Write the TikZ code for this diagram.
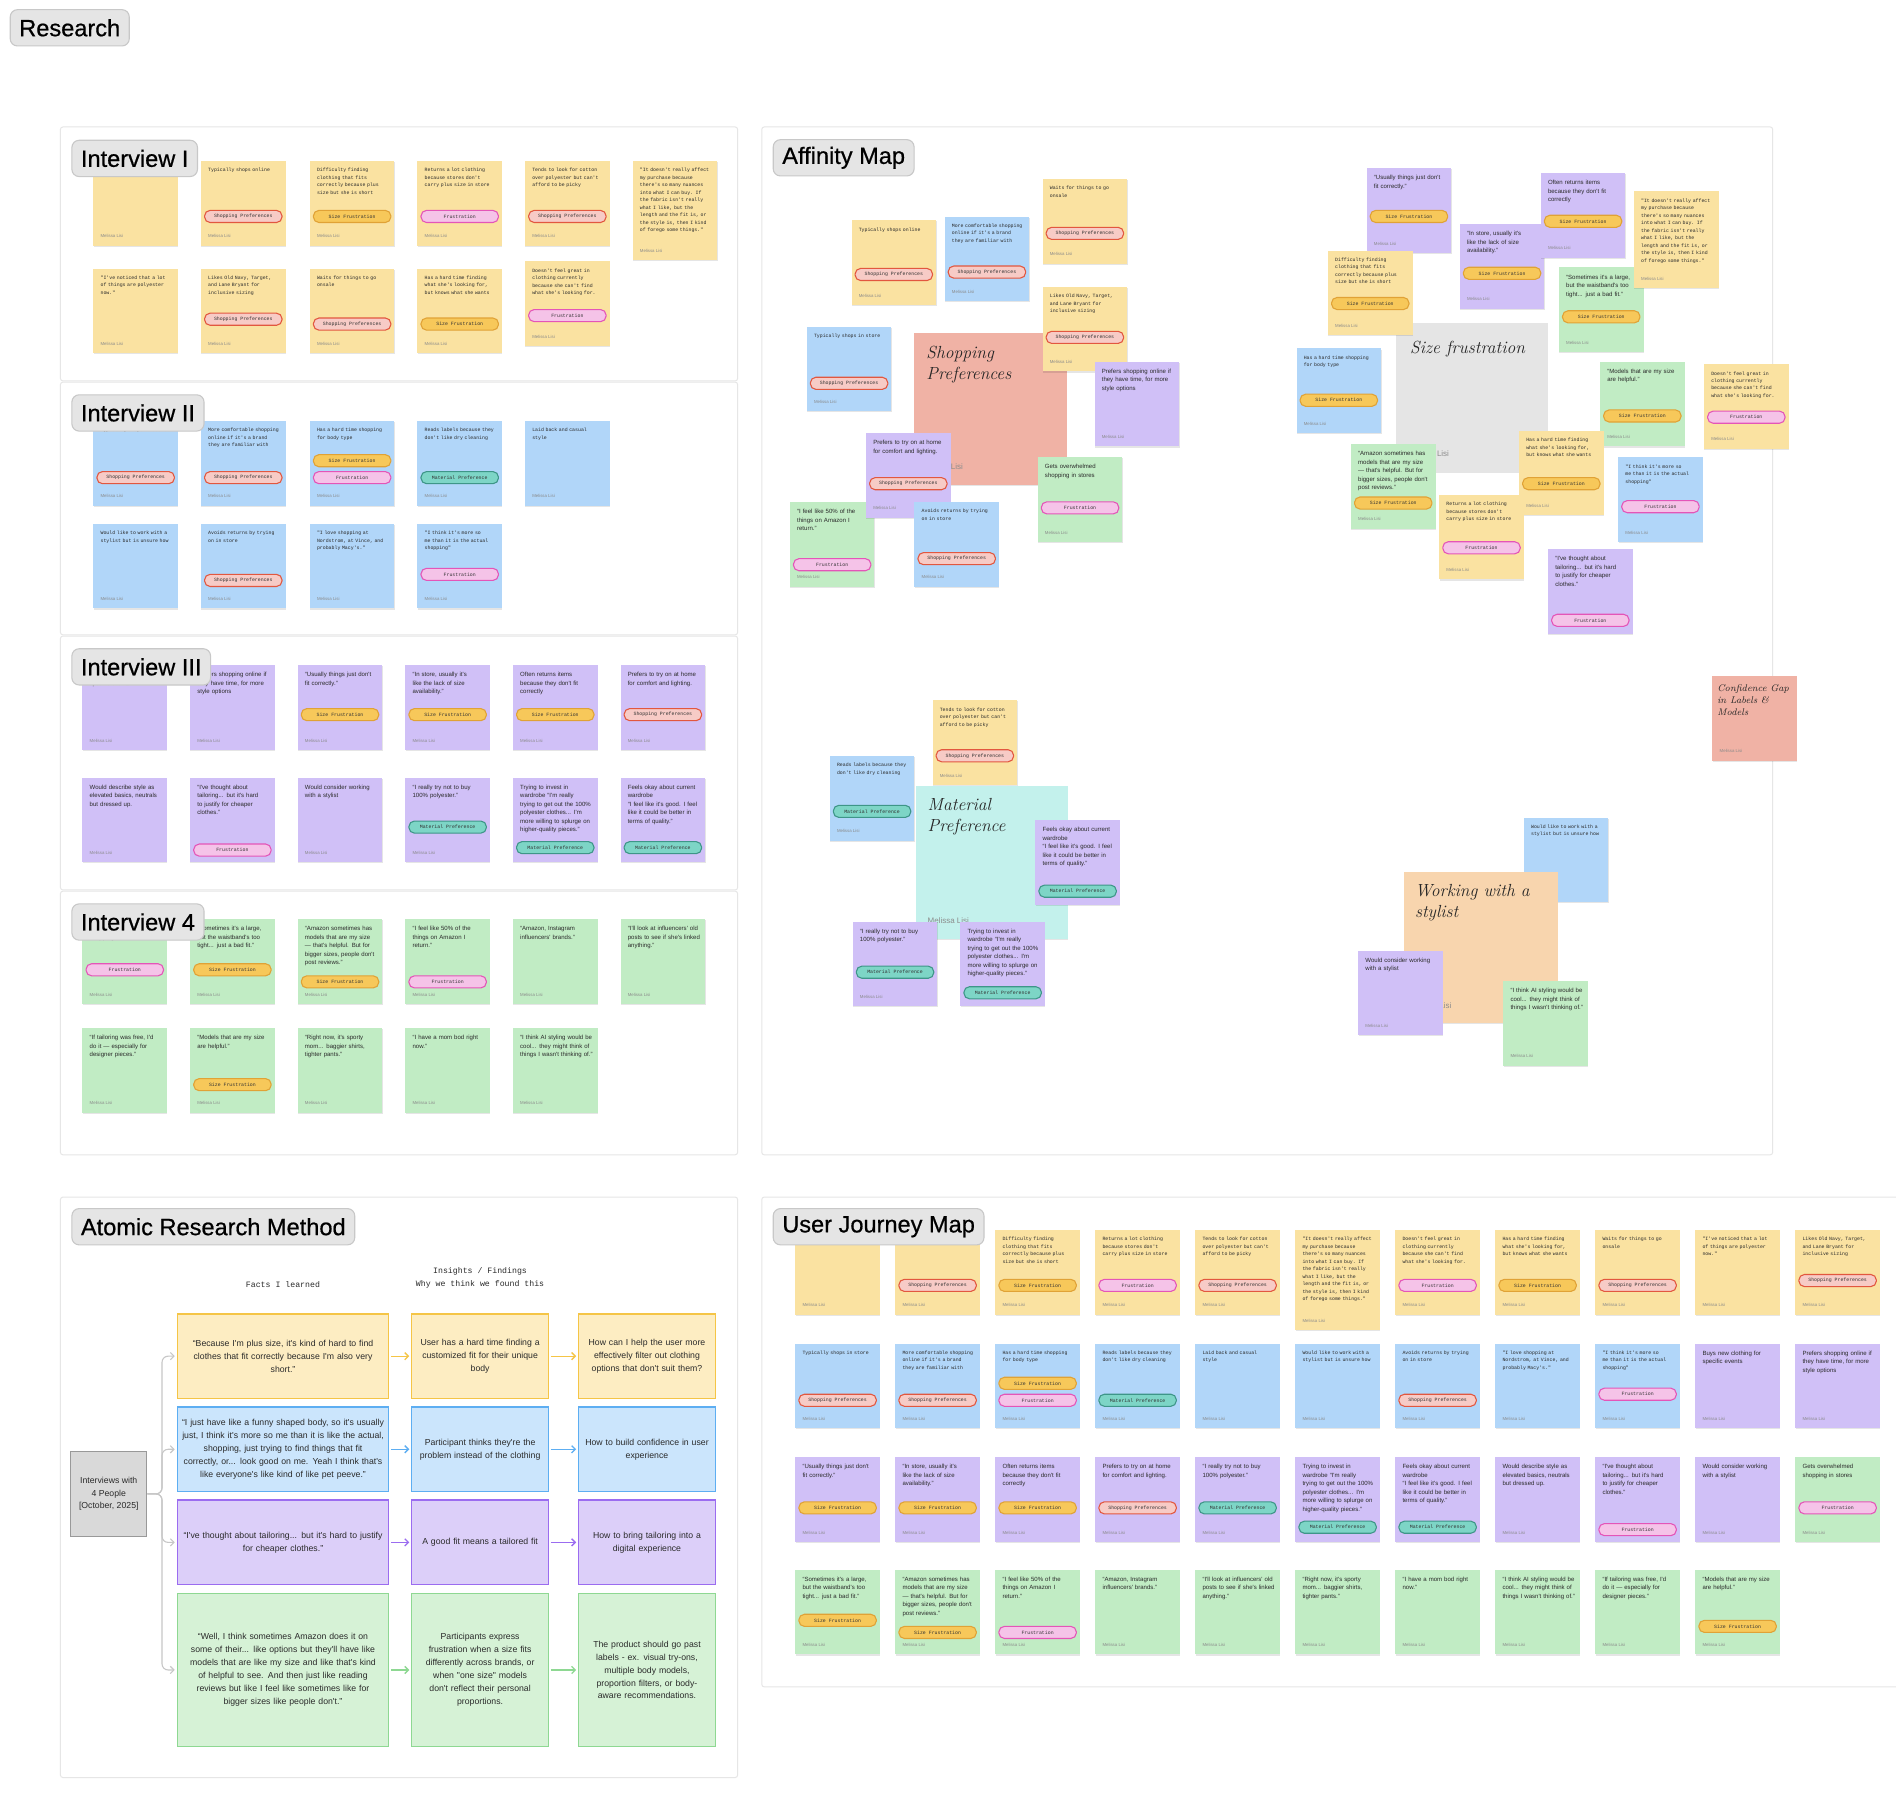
\documentclass[tikz,border=0pt]{standalone}
\usepackage{fontspec}
\newfontfamily\lsans{Liberation Sans}
\newfontfamily\lsansl{Liberation Sans}[FakeBold=0.6]
\newfontfamily\lmono{Liberation Mono}
\usetikzlibrary{calc,arrows.meta,shadows}
\hyphenpenalty=10000 \exhyphenpenalty=10000
\definecolor{nY}{HTML}{FAE2A1}
\definecolor{nB}{HTML}{B1D6F9}
\definecolor{nP}{HTML}{D0C0F7}
\definecolor{nG}{HTML}{C1ECC4}
\definecolor{cSal}{HTML}{F0B2A5}
\definecolor{cGry}{HTML}{E5E5E5}
\definecolor{cMnt}{HTML}{C3F1EC}
\definecolor{cPch}{HTML}{F8D5AE}
\definecolor{pSPf}{HTML}{F7CBC6}\definecolor{pSPd}{HTML}{E2573F}
\definecolor{pSFf}{HTML}{F7C85A}\definecolor{pSFd}{HTML}{E0A236}
\definecolor{pFf}{HTML}{F5C3E8}\definecolor{pFd}{HTML}{E455B8}
\definecolor{pMPf}{HTML}{7DD5C6}\definecolor{pMPd}{HTML}{3E9688}
\definecolor{aYf}{HTML}{FDEDC2}\definecolor{aYd}{HTML}{F5C546}
\definecolor{aBf}{HTML}{CBE5FC}\definecolor{aBd}{HTML}{5DAEF2}
\definecolor{aPf}{HTML}{DCCFF9}\definecolor{aPd}{HTML}{9B6CF0}
\definecolor{aGf}{HTML}{D6F2D6}\definecolor{aGd}{HTML}{8ED892}
\definecolor{lblF}{HTML}{E5E5E5}\definecolor{lblD}{HTML}{C8C8C8}
\definecolor{frm}{HTML}{E6E6E6}
\definecolor{authgray}{HTML}{8A8A8A}
\definecolor{txt}{HTML}{2A2A2A}
\newcommand\fmono{\fontsize{4.03}{6.2}\selectfont\lmono}
\newcommand\fsans{\fontsize{5}{7}\selectfont\lsans}
\newcommand\fpill{\fontsize{4.03}{5}\selectfont\lmono}
\newcommand\fauth{\fontsize{3.6}{4}\selectfont\lsans}
\newcommand\flabel{\fontsize{19.5}{23}\selectfont\lsansl}
\newcommand\farm{\fontsize{7.2}{10.7}\selectfont\lsans}
\newcommand\fhdr{\fontsize{6.8}{11}\selectfont\lmono}
\newcommand\tltSP{Shopping Preferences}
\newcommand\tltSF{Size Frustration}
\newcommand\tltF{Frustration}
\newcommand\tltMP{Material Preference}
\tikzset{
  note/.style={shape=rectangle, inner sep=0pt, minimum width=70pt, anchor=north west,
    general shadow={fill=black, opacity=0.10, shadow xshift=0.3pt, shadow yshift=-0.9pt}},
  ntext/.style={inner sep=0pt, text width=60pt, align=left, anchor=north west, text=txt},
  fm/.style={font=\fmono, text width=58.5pt},
  fs/.style={font=\fsans},
  auth/.style={inner sep=0pt, anchor=west, font=\fauth, text=authgray},
  pill/.style={rounded corners=4.5pt, minimum width=64pt, minimum height=10pt, inner sep=0pt,
    line width=0.9pt, font=\fpill, text=black!80},
  tSP/.style={fill=pSPf, draw=pSPd},
  tSF/.style={fill=pSFf, draw=pSFd},
  tF/.style={fill=pFf, draw=pFd},
  tMP/.style={fill=pMPf, draw=pMPd},
  frame/.style={draw=frm, fill=white, line width=0.8pt, rounded corners=2pt},
  lbl/.style={draw=lblD, fill=lblF, rounded corners=6pt, line width=0.9pt, minimum height=30pt,
    inner xsep=7.5pt, inner ysep=0pt, font=\flabel, anchor=west},
  ctitle/.style={inner sep=0pt, anchor=north west, align=left, font=\fontsize{14.5}{17.5}\selectfont\itshape, text=black!85},
  cauth/.style={inner sep=0pt, anchor=west, font=\fontsize{6.6}{7}\selectfont\lsans, text=black!45},
  abox/.style={anchor=north west, inner sep=0pt, align=center, line width=1.1pt, font=\farm, text=txt},
  hdr/.style={inner sep=0pt, align=center, font=\fhdr, text=txt},
  garr/.style={draw=black!22, line width=0.9pt, rounded corners=5pt, -{Straight Barb[length=3pt,width=6pt]}, shorten >=1.5pt},
  rarr/.style={line width=1.1pt, -{Straight Barb[length=3pt,width=6pt]}, shorten >=1.5pt, shorten <=1.5pt}
}
\newcount\tagc
\newcommand\cur{}
\newcommand{\stk}[7][70]{%
  \node[note, fill=#4, minimum height=#1] (#2) at #3 {};
  \node[ntext, #5] (#2-t) at ($(#2.north west)+(6,6)$) {#6};
  \node[auth] (#2-a) at ($(#2.south west)+(6,-8)$) {Melissa Lisi};
  \renewcommand\cur{#2}#7}
\newcommand{\tg}[2]{\global\advance\tagc by 1\relax
  \node[pill, #1] (tag\the\tagc) at ($(\cur.north)+(0,#2)$) {\csname tl#1\endcsname};}
% texts
\newcommand\TOver{\mbox{}\\over the summer}
\newcommand\TTypOn{Typically shops online}
\newcommand\TDiff{Difficulty finding clothing that fits correctly because plus size but she is short}
\newcommand\TRet{Returns a lot clothing because stores don't carry plus size in store}
\newcommand\TCot{Tends to look for cotton over polyester but can't afford to be picky}
\newcommand\TAff{"It doesn't really affect my purchase because there's so many nuances into what I can buy. If the fabric isn't really what I like, but the length and the fit is, or the style is, then I kind of forego some things."}
\newcommand\TNot{"I've noticed that a lot of things are polyester now."}
\newcommand\TLikes{Likes Old Navy, Target, and Lane Bryant for inclusive sizing}
\newcommand\TWaits{Waits for things to go onsale}
\newcommand\THasF{Has a hard time finding what she's looking for, but knows what she wants}
\newcommand\TDoes{Doesn't feel great in clothing currently because she can't find what she's looking for.}
\newcommand\TTypSt{Typically shops in store}
\newcommand\TMore{More comfortable shopping online if it's a brand they are familiar with}
\newcommand\THasS{Has a hard time shopping for body type}
\newcommand\TReads{Reads labels because they don't like dry cleaning}
\newcommand\TLaid{Laid back and casual style}
\newcommand\TWould{Would like to work with a stylist but is unsure how}
\newcommand\TAvoid{Avoids returns by trying on in store}
\newcommand\TLove{"I love shopping at Nordstrom, at Vince, and probably Macy's."}
\newcommand\TThink{"I think it's more so me than it is the actual shopping"}
\newcommand\TBuys{Buys new clothing for specific events}
\newcommand\TPrefOn{Prefers shopping online if they have time, for more style options}
\newcommand\TUsu{“Usually things just don't fit correctly.”}
\newcommand\TInSt{“In store, usually it's like the lack of size availability.”}
\newcommand\TOften{Often returns items because they don't fit correctly}
\newcommand\TPrefHome{Prefers to try on at home for comfort and lighting.}
\newcommand\TDescr{Would describe style as elevated basics, neutrals but dressed up.}
\newcommand\TTail{“I've thought about tailoring... but it's hard to justify for cheaper clothes.”}
\newcommand\TCons{Would consider working with a stylist}
\newcommand\TPoly{“I really try not to buy 100\% polyester.”}
\newcommand\TInvest{Trying to invest in wardrobe “I'm really trying to get out the 100\% polyester clothes... I'm more willing to splurge on higher-quality pieces.”}
\newcommand\TFeels{Feels okay about current wardrobe\\“I feel like it's good. I feel like it could be better in terms of quality.”}
\newcommand\TGets{Gets overwhelmed shopping in stores}
\newcommand\TSome{“Sometimes it's a large, but the waistband's too tight... just a bad fit.”}
\newcommand\TAmaz{“Amazon sometimes has models that are my size — that's helpful. But for bigger sizes, people don't post reviews.”}
\newcommand\TFifty{“I feel like 50\% of the things on Amazon I return.”}
\newcommand\TInsta{“Amazon, Instagram influencers' brands.”}
\newcommand\TInfl{“I'll look at influencers' old posts to see if she's linked anything.”}
\newcommand\TFree{“If tailoring was free, I'd do it — especially for designer pieces.”}
\newcommand\TModels{“Models that are my size are helpful.”}
\newcommand\TSporty{“Right now, it's sporty mom... baggier shirts, tighter pants.”}
\newcommand\TMom{“I have a mom bod right now.”}
\newcommand\TAI{“I think AI styling would be cool... they might think of things I wasn't thinking of.”}
\begin{document}
\begin{tikzpicture}[x=1pt,y=-1pt]
\useasboundingbox (0,0) rectangle (1568,1492);
\clip (0,0) rectangle (1568,1492);
\fill[white] (0,0) rectangle (1568,1492);
% frames
\draw[frame] (50,105) rectangle (610,315);
\draw[frame] (50,316) rectangle (610,525);
\draw[frame] (50,526) rectangle (610,736);
\draw[frame] (50,737) rectangle (610,955);
\draw[frame] (630,105) rectangle (1466,955);
\draw[frame] (50,990) rectangle (610,1470);
\draw[frame] (630,990) rectangle (1590,1395);

% ---------- Interview I ----------
\stk{ia1}{(77,133)}{nY}{fm}{\TOver}{}
\stk{ia2}{(166,133)}{nY}{fm}{\TTypOn}{\tg{tSP}{46}}
\stk{ia3}{(256,133)}{nY}{fm}{\TDiff}{\tg{tSF}{46}}
\stk{ia4}{(345,133)}{nY}{fm}{\TRet}{\tg{tF}{46}}
\stk{ia5}{(434,133)}{nY}{fm}{\TCot}{\tg{tSP}{46}}
\stk[82]{ia6}{(523,133)}{nY}{fm}{\TAff}{}
\stk{ib1}{(77,222)}{nY}{fm}{\TNot}{}
\stk{ib2}{(166,222)}{nY}{fm}{\TLikes}{\tg{tSP}{42}}
\stk{ib3}{(256,222)}{nY}{fm}{\TWaits}{\tg{tSP}{46}}
\stk{ib4}{(345,222)}{nY}{fm}{\THasF}{\tg{tSF}{46}}
\stk{ib5}{(434,216)}{nY}{fm}{\TDoes}{\tg{tF}{45}}
% ---------- Interview II ----------
\stk{iia1}{(77,348)}{nB}{fm}{\TTypSt}{\tg{tSP}{47}}
\stk{iia2}{(166,348)}{nB}{fm}{\TMore}{\tg{tSP}{47}}
\stk{iia3}{(256,348)}{nB}{fm}{\THasS}{\tg{tSF}{33}\tg{tF}{47}}
\stk{iia4}{(345,348)}{nB}{fm}{\TReads}{\tg{tMP}{47}}
\stk{iia5}{(434,348)}{nB}{fm}{\TLaid}{}
\stk{iib1}{(77,433)}{nB}{fm}{\TWould}{}
\stk{iib2}{(166,433)}{nB}{fm}{\TAvoid}{\tg{tSP}{47}}
\stk{iib3}{(256,433)}{nB}{fm}{\TLove}{}
\stk{iib4}{(345,433)}{nB}{fm}{\TThink}{\tg{tF}{42}}
% ---------- Interview III ----------
\stk{iiia1}{(68,550)}{nP}{fs}{\TBuys}{}
\stk{iiia2}{(157,550)}{nP}{fs}{\TPrefOn}{}
\stk{iiia3}{(246,550)}{nP}{fs}{\TUsu}{\tg{tSF}{41}}
\stk{iiia4}{(335,550)}{nP}{fs}{\TInSt}{\tg{tSF}{41}}
\stk{iiia5}{(424,550)}{nP}{fs}{\TOften}{\tg{tSF}{41}}
\stk{iiia6}{(513,550)}{nP}{fs}{\TPrefHome}{\tg{tSP}{41}}
\stk{iiib1}{(68,643)}{nP}{fs}{\TDescr}{}
\stk{iiib2}{(157,643)}{nP}{fs}{\TTail}{\tg{tF}{60}}
\stk{iiib3}{(246,643)}{nP}{fs}{\TCons}{}
\stk{iiib4}{(335,643)}{nP}{fs}{\TPoly}{\tg{tMP}{41}}
\stk{iiib5}{(424,643)}{nP}{fs}{\TInvest}{\tg{tMP}{58}}
\stk{iiib6}{(513,643)}{nP}{fs}{\TFeels}{\tg{tMP}{58}}
% ---------- Interview 4 ----------
\stk{iva1}{(68,760)}{nG}{fs}{\TGets}{\tg{tF}{42}}
\stk{iva2}{(157,760)}{nG}{fs}{\TSome}{\tg{tSF}{42}}
\stk{iva3}{(246,760)}{nG}{fs}{\TAmaz}{\tg{tSF}{52}}
\stk{iva4}{(335,760)}{nG}{fs}{\TFifty}{\tg{tF}{52}}
\stk{iva5}{(424,760)}{nG}{fs}{\TInsta}{}
\stk{iva6}{(513,760)}{nG}{fs}{\TInfl}{}
\stk{ivb1}{(68,850)}{nG}{fs}{\TFree}{}
\stk{ivb2}{(157,850)}{nG}{fs}{\TModels}{\tg{tSF}{47}}
\stk{ivb3}{(246,850)}{nG}{fs}{\TSporty}{}
\stk{ivb4}{(335,850)}{nG}{fs}{\TMom}{}
\stk{ivb5}{(424,850)}{nG}{fs}{\TAI}{}

% ---------- Affinity: shopping preferences ----------
\stk{a5}{(667,270)}{nB}{fm}{\TTypSt}{\tg{tSP}{47}}
\node[note, fill=cSal, minimum width=126pt, minimum height=126pt] (spc) at (756,275) {};
\node[ctitle] (spct) at (766,286) {Shopping\\Preferences};
\node[cauth] (spca) at (762,386) {Melissa Lisi};
\stk{a1}{(704,182)}{nY}{fm}{\TTypOn}{\tg{tSP}{45}}
\stk{a2}{(781,179)}{nB}{fm}{\TMore}{\tg{tSP}{46}}
\stk{a3}{(862,148)}{nY}{fm}{\TWaits}{\tg{tSP}{45}}
\stk{a4}{(862,237)}{nY}{fm}{\TLikes}{\tg{tSP}{42}}
\stk{a6}{(905,299)}{nP}{fs}{\TPrefOn}{}
\stk{a8}{(858,378)}{nG}{fs}{\TGets}{\tg{tF}{42}}
\stk{a9}{(653,415)}{nG}{fs}{\TFifty}{\tg{tF}{52}}
\stk{a7}{(716,358)}{nP}{fs}{\TPrefHome}{\tg{tSP}{42}}
\stk{a10}{(756,415)}{nB}{fm}{\TAvoid}{\tg{tSP}{47}}
% ---------- Affinity: size frustration ----------
\node[note, fill=cGry, minimum width=126pt, minimum height=123pt] (sfc) at (1154,267) {};
\node[ctitle] (sfct) at (1166,282) {Size frustration};
\node[cauth] (sfca) at (1164,375) {Melissa Lisi};
\stk{b1}{(1130,139)}{nP}{fs}{\TUsu}{\tg{tSF}{40}}
\stk{b3}{(1207,185)}{nP}{fs}{\TInSt}{\tg{tSF}{41}}
\stk{b4}{(1274,143)}{nP}{fs}{\TOften}{\tg{tSF}{40}}
\stk{b2}{(1098,207)}{nY}{fm}{\TDiff}{\tg{tSF}{44}}
\stk{b6}{(1289,221)}{nG}{fs}{\TSome}{\tg{tSF}{41}}
\stk[80]{b5}{(1351,158)}{nY}{fm}{\TAff}{}
\stk{b7}{(1072,288)}{nB}{fm}{\THasS}{\tg{tSF}{43}}
\stk{b8}{(1323,299)}{nG}{fs}{\TModels}{\tg{tSF}{45}}
\stk{b9}{(1409,301)}{nY}{fm}{\TDoes}{\tg{tF}{44}}
\stk{b11}{(1256,356)}{nY}{fm}{\THasF}{\tg{tSF}{44}}
\stk{b10}{(1117,367)}{nG}{fs}{\TAmaz}{\tg{tSF}{49}}
\stk{b12}{(1190,409)}{nY}{fm}{\TRet}{\tg{tF}{44}}
\stk{b13}{(1338,378)}{nB}{fm}{\TThink}{\tg{tF}{41}}
\stk{b14}{(1280,454)}{nP}{fs}{\TTail}{\tg{tF}{59}}
% ---------- Affinity: material ----------
\stk{c1}{(771,579)}{nY}{fm}{\TCot}{\tg{tSP}{46}}
\stk{c2}{(686,625)}{nB}{fm}{\TReads}{\tg{tMP}{46}}
\node[note, fill=cMnt, minimum width=126pt, minimum height=126pt] (mpc) at (757,650) {};
\node[ctitle] (mpct) at (767,660) {Material\\Preference};
\node[cauth] (mpca) at (767,761) {Melissa Lisi};
\stk{c3}{(856,678)}{nP}{fs}{\TFeels}{\tg{tMP}{59}}
\stk{c4}{(705,762)}{nP}{fs}{\TPoly}{\tg{tMP}{42}}
\stk{c5}{(794,762)}{nP}{fs}{\TInvest}{\tg{tMP}{59}}
% ---------- Affinity: stylist ----------
\stk{c7}{(1260,676)}{nB}{fm}{\TWould}{}
\node[note, fill=cPch, minimum width=127pt, minimum height=125pt] (wsc) at (1161,721) {};
\node[ctitle] (wsct) at (1170,731) {Working with a\\stylist};
\node[cauth] (wsca) at (1166,832) {Melissa Lisi};
\stk{c8}{(1123,786)}{nP}{fs}{\TCons}{}
\stk{c9}{(1243,811)}{nG}{fs}{\TAI}{}
% confidence gap
\node[note, fill=cSal, minimum height=70pt] (c10) at (1416,559) {};
\node[ctitle, font=\fontsize{8}{10}\selectfont\itshape] (c10t) at (1420,566) {Confidence Gap\\in Labels \&\\Models};
\node[auth] (c10a) at ($(c10.south west)+(6,-8)$) {Melissa Lisi};

% ---------- User Journey Map ----------
\stk{u1a1}{(657.5,1017)}{nY}{fm}{\TOver}{}
\stk{u1a2}{(740.2,1017)}{nY}{fm}{\TTypOn}{\tg{tSP}{46}}
\stk{u1a3}{(822.9,1017)}{nY}{fm}{\TDiff}{\tg{tSF}{46}}
\stk{u1a4}{(905.6,1017)}{nY}{fm}{\TRet}{\tg{tF}{46}}
\stk{u1a5}{(988.3,1017)}{nY}{fm}{\TCot}{\tg{tSP}{46}}
\stk[83]{u1a6}{(1071,1017)}{nY}{fm}{\TAff}{}
\stk{u1a7}{(1153.7,1017)}{nY}{fm}{\TDoes}{\tg{tF}{46}}
\stk{u1a8}{(1236.4,1017)}{nY}{fm}{\THasF}{\tg{tSF}{46}}
\stk{u1a9}{(1319.1,1017)}{nY}{fm}{\TWaits}{\tg{tSP}{46}}
\stk{u1a10}{(1401.8,1017)}{nY}{fm}{\TNot}{}
\stk{u1a11}{(1484.5,1017)}{nY}{fm}{\TLikes}{\tg{tSP}{42}}
\stk{u2a1}{(657.5,1111)}{nB}{fm}{\TTypSt}{\tg{tSP}{47}}
\stk{u2a2}{(740.2,1111)}{nB}{fm}{\TMore}{\tg{tSP}{47}}
\stk{u2a3}{(822.9,1111)}{nB}{fm}{\THasS}{\tg{tSF}{33}\tg{tF}{47}}
\stk{u2a4}{(905.6,1111)}{nB}{fm}{\TReads}{\tg{tMP}{47}}
\stk{u2a5}{(988.3,1111)}{nB}{fm}{\TLaid}{}
\stk{u2a6}{(1071,1111)}{nB}{fm}{\TWould}{}
\stk{u2a7}{(1153.7,1111)}{nB}{fm}{\TAvoid}{\tg{tSP}{47}}
\stk{u2a8}{(1236.4,1111)}{nB}{fm}{\TLove}{}
\stk{u2a9}{(1319.1,1111)}{nB}{fm}{\TThink}{\tg{tF}{42}}
\stk{u2a10}{(1401.8,1111)}{nP}{fs}{\TBuys}{}
\stk{u2a11}{(1484.5,1111)}{nP}{fs}{\TPrefOn}{}
\stk{u3a1}{(657.5,1205)}{nP}{fs}{\TUsu}{\tg{tSF}{42}}
\stk{u3a2}{(740.2,1205)}{nP}{fs}{\TInSt}{\tg{tSF}{42}}
\stk{u3a3}{(822.9,1205)}{nP}{fs}{\TOften}{\tg{tSF}{42}}
\stk{u3a4}{(905.6,1205)}{nP}{fs}{\TPrefHome}{\tg{tSP}{42}}
\stk{u3a5}{(988.3,1205)}{nP}{fs}{\TPoly}{\tg{tMP}{42}}
\stk{u3a6}{(1071,1205)}{nP}{fs}{\TInvest}{\tg{tMP}{58}}
\stk{u3a7}{(1153.7,1205)}{nP}{fs}{\TFeels}{\tg{tMP}{58}}
\stk{u3a8}{(1236.4,1205)}{nP}{fs}{\TDescr}{}
\stk{u3a9}{(1319.1,1205)}{nP}{fs}{\TTail}{\tg{tF}{60}}
\stk{u3a10}{(1401.8,1205)}{nP}{fs}{\TCons}{}
\stk{u3a11}{(1484.5,1205)}{nG}{fs}{\TGets}{\tg{tF}{42}}
\stk{u4a1}{(657.5,1298)}{nG}{fs}{\TSome}{\tg{tSF}{42}}
\stk{u4a2}{(740.2,1298)}{nG}{fs}{\TAmaz}{\tg{tSF}{52}}
\stk{u4a3}{(822.9,1298)}{nG}{fs}{\TFifty}{\tg{tF}{52}}
\stk{u4a4}{(905.6,1298)}{nG}{fs}{\TInsta}{}
\stk{u4a5}{(988.3,1298)}{nG}{fs}{\TInfl}{}
\stk{u4a6}{(1071,1298)}{nG}{fs}{\TSporty}{}
\stk{u4a7}{(1153.7,1298)}{nG}{fs}{\TMom}{}
\stk{u4a8}{(1236.4,1298)}{nG}{fs}{\TAI}{}
\stk{u4a9}{(1319.1,1298)}{nG}{fs}{\TFree}{}
\stk{u4a10}{(1401.8,1298)}{nG}{fs}{\TModels}{\tg{tSF}{47}}

% ---------- Atomic Research Method ----------
\node[hdr] (hf) at (234,1062) {Facts I learned};
\node[hdr] (hi) at (397,1056.5) {Insights / Findings\\Why we think we found this};
\node[anchor=north west, inner sep=0pt, minimum width=63pt, minimum height=70pt, fill=black!15, draw=black!40, line width=0.9pt, align=center, font=\fontsize{7.2}{10.5}\selectfont\lsans, text=txt] (lbox) at (58,1200) {Interviews with\\4 People\\{}[October, 2025]};
% row 1
\node[abox, fill=aYf, draw=aYd, minimum width=175pt, minimum height=70pt, text width=172pt] (r1c1) at (146,1086) {“Because I'm plus size, it's kind of hard to find\\clothes that fit correctly because I'm also very\\short.”};
\node[abox, fill=aYf, draw=aYd, minimum width=113pt, minimum height=70pt, text width=110pt] (r1c2) at (340,1086) {User has a hard time finding a\\customized fit for their unique\\body};
\node[abox, fill=aYf, draw=aYd, minimum width=113pt, minimum height=70pt, text width=110pt] (r1c3) at (478,1086) {How can I help the user more\\effectively filter out clothing\\options that don't suit them?};
% row 2
\node[abox, fill=aBf, draw=aBd, minimum width=175pt, minimum height=70pt, text width=172pt] (r2c1) at (146,1163) {“I just have like a funny shaped body, so it's usually\\just, I think it's more so me than it is like the actual,\\shopping, just trying to find things that fit\\correctly, or... look good on me. Yeah I think that's\\like everyone's like kind of like pet peeve.”};
\node[abox, fill=aBf, draw=aBd, minimum width=113pt, minimum height=70pt, text width=110pt] (r2c2) at (340,1163) {Participant thinks they're the\\problem instead of the clothing};
\node[abox, fill=aBf, draw=aBd, minimum width=113pt, minimum height=70pt, text width=110pt] (r2c3) at (478,1163) {How to build confidence in user\\experience};
% row 3
\node[abox, fill=aPf, draw=aPd, minimum width=175pt, minimum height=70pt, text width=172pt] (r3c1) at (146,1240) {“I've thought about tailoring... but it's hard to justify\\for cheaper clothes.”};
\node[abox, fill=aPf, draw=aPd, minimum width=113pt, minimum height=70pt, text width=110pt] (r3c2) at (340,1240) {A good fit means a tailored fit};
\node[abox, fill=aPf, draw=aPd, minimum width=113pt, minimum height=70pt, text width=110pt] (r3c3) at (478,1240) {How to bring tailoring into a\\digital experience};
% row 4
\node[abox, fill=aGf, draw=aGd, minimum width=175pt, minimum height=127pt, text width=172pt] (r4c1) at (146,1317) {“Well, I think sometimes Amazon does it on\\some of their... like options but they'll have like\\models that are like my size and like that's kind\\of helpful to see. And then just like reading\\reviews but like I feel like sometimes like for\\bigger sizes like people don't.”};
\node[abox, fill=aGf, draw=aGd, minimum width=113pt, minimum height=127pt, text width=110pt] (r4c2) at (340,1317) {Participants express\\frustration when a size fits\\differently across brands, or\\when "one size" models\\don't reflect their personal\\proportions.};
\node[abox, fill=aGf, draw=aGd, minimum width=113pt, minimum height=127pt, text width=110pt] (r4c3) at (478,1317) {The product should go past\\labels - ex. visual try-ons,\\multiple body models,\\proportion filters, or body-\\aware recommendations.};
% connectors
\coordinate (brx) at (134,1235);
\foreach \r in {r1c1,r2c1,r3c1,r4c1}
  \draw[garr] (lbox.east) -- (lbox.east -| brx) |- (\r.west);
\draw[rarr, draw=aYd] (r1c1.east) -- (r1c2.west);
\draw[rarr, draw=aYd] (r1c2.east) -- (r1c3.west);
\draw[rarr, draw=aBd] (r2c1.east) -- (r2c2.west);
\draw[rarr, draw=aBd] (r2c2.east) -- (r2c3.west);
\draw[rarr, draw=aPd] (r3c1.east) -- (r3c2.west);
\draw[rarr, draw=aPd] (r3c2.east) -- (r3c3.west);
\draw[rarr, draw=aGd] (r4c1.east) -- (r4c2.west);
\draw[rarr, draw=aGd] (r4c2.east) -- (r4c3.west);

% ---------- labels ----------
\node[lbl] (lres) at (8,23) {Research};
\node[lbl] (li1) at (59,131) {Interview I};
\node[lbl] (li2) at (59,341.5) {Interview II};
\node[lbl] (li3) at (59,551.5) {Interview III};
\node[lbl] (li4) at (59,762.5) {Interview 4};
\node[lbl] (laff) at (639,130.5) {Affinity Map};
\node[lbl] (larm) at (59,1014.5) {Atomic Research Method};
\node[lbl] (lujm) at (639,1014.5) {User Journey Map};
\end{tikzpicture}
\end{document}
